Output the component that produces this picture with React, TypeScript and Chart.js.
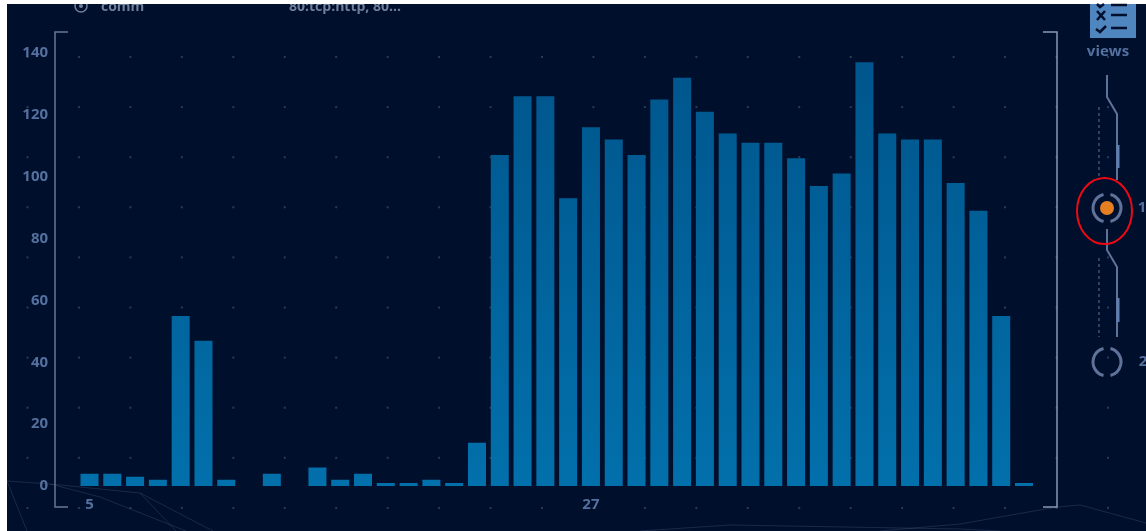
import React, { useEffect, useRef } from "react";
import { Chart, registerables } from "chart.js";

Chart.register(...registerables);

const categories = [
  5, 6, 7, 8, 9, 10, 11, 12, 13, 14, 15, 16, 17, 18, 19, 20, 21, 22, 23, 24, 25,
  26, 27, 28, 29, 30, 31, 32, 33, 34, 35, 36, 37, 38, 39, 40, 41, 42, 43, 44, 45, 46,
];
const counts = [
  4, 4, 3, 2, 55, 47, 2, 0, 4, 0, 6, 2, 4, 1, 1, 2, 1, 14, 107, 126, 126,
  93, 116, 112, 107, 125, 132, 121, 114, 111, 111, 106, 97, 101, 137, 114, 112, 112, 98, 89, 55, 1,
];
const shownCategories = [5, 27];

const FONT = '"Open Sans", sans-serif';
const LABEL = "#54709f";

const backdrop = {
  id: "backdrop",
  beforeDraw(chart: any) {
    const c = chart.ctx;
    c.save();
    c.fillStyle = "#ffffff";
    c.fillRect(0, 0, 1146, 531);
    c.fillStyle = "#000f2b";
    c.fillRect(7, 4, 1139, 527);

    // faint background polylines
    c.strokeStyle = "rgba(90,110,150,0.28)";
    c.lineWidth = 1;
    const polys = [
      [[7, 481], [50, 484], [140, 493], [213, 531]],
      [[140, 493], [176, 531]],
      [[7, 481], [27, 531]],
      [[50, 484], [100, 497], [186, 531]],
      [[1057, 507], [1080, 505], [1146, 523]],
      [[640, 531], [730, 525], [960, 529], [1000, 531]],
      [[880, 531], [960, 524], [1057, 507]],
    ];
    for (const p of polys) {
      c.beginPath();
      p.forEach(([x, y], i) => (i ? c.lineTo(x, y) : c.moveTo(x, y)));
      c.stroke();
    }

    // dot lattice
    c.fillStyle = "rgba(120,140,175,0.35)";
    for (let i = 0; i < 22; i++) {
      for (let j = 0; j < 10; j++) {
        c.fillRect(26.5 + i * 51.45, 56 + j * 50.1, 2, 2);
      }
    }
    c.restore();
  },
  afterDraw(chart: any) {
    const c = chart.ctx;
    c.save();
    const line = (pts: number[][], color: string, w = 1.5, dash: number[] = []) => {
      c.strokeStyle = color;
      c.lineWidth = w;
      c.setLineDash(dash);
      c.beginPath();
      pts.forEach(([x, y], i) => (i ? c.lineTo(x, y) : c.moveTo(x, y)));
      c.stroke();
      c.setLineDash([]);
    };

    // brackets
    line([[68, 32], [55, 32], [55, 507], [68, 507]], "#66789a");
    line([[1043, 32], [1057, 32], [1057, 507], [1043, 507]], "#8898b6");

    // right-hand rail
    const rail = "#5f7299";
    line([[1107, 75], [1107, 97], [1117, 114], [1117, 180]], rail, 2);
    line([[1118, 145], [1118, 168]], "#5f7fb0", 3);
    line([[1099, 107], [1099, 180]], rail, 1, [3, 3]);
    line([[1107, 229], [1107, 250], [1117, 267], [1117, 337]], rail, 2);
    line([[1118, 298], [1118, 322]], "#5f7fb0", 3);
    line([[1099, 258], [1099, 337]], rail, 1, [3, 3]);

    const rings = (x: number, y: number) => {
      c.strokeStyle = "#5f7299";
      c.lineWidth = 3;
      c.beginPath();
      c.arc(x, y, 14, Math.PI * 0.58, Math.PI * 1.42);
      c.stroke();
      c.beginPath();
      c.arc(x, y, 14, -Math.PI * 0.42, Math.PI * 0.42);
      c.stroke();
    };
    rings(1107, 208);
    rings(1107, 362);
    c.fillStyle = "#e67e22";
    c.beginPath();
    c.arc(1107, 208, 7, 0, Math.PI * 2);
    c.fill();

    // red annotation ellipse
    c.strokeStyle = "#ee0a14";
    c.lineWidth = 2;
    c.beginPath();
    c.ellipse(1104.5, 211, 27.5, 33, 0, 0, Math.PI * 2);
    c.stroke();

    // views icon
    c.fillStyle = "#4f86c0";
    c.fillRect(1090, 4, 46, 34);
    line([[1097, 11], [1105, 20]], "#000f2b", 2.5);
    line([[1105, 11], [1097, 20]], "#000f2b", 2.5);
    line([[1111, 15], [1127, 15]], "#000f2b", 2.5);
    line([[1096, 29], [1100, 32], [1106, 26]], "#000f2b", 2.5);
    line([[1111, 28], [1127, 28]], "#000f2b", 2.5);
    line([[1097, 4], [1100, 7], [1104, 4]], "#000f2b", 2.5);
    line([[1111, 5], [1127, 5]], "#000f2b", 2.5);

    c.textBaseline = "middle";
    c.fillStyle = LABEL;
    c.font = `bold 15px ${FONT}`;
    c.textAlign = "center";
    c.fillText("views", 1108, 52);
    c.fillText("1", 1142, 208);
    c.fillText("2", 1143, 362);

    // clipped header row
    c.beginPath();
    c.rect(7, 4, 1139, 20);
    c.clip();
    c.fillStyle = "#6f7f9c";
    c.textAlign = "left";
    c.font = `bold 14px ${FONT}`;
    c.fillText("comm", 101, 7);
    c.fillText("80:tcp:http, 80...", 289, 7);
    c.strokeStyle = "#6f7f9c";
    c.lineWidth = 1.5;
    c.beginPath();
    c.arc(81, 6, 6, 0, Math.PI * 2);
    c.stroke();
    c.fillStyle = "#6f7f9c";
    c.beginPath();
    c.arc(81, 6, 2, 0, Math.PI * 2);
    c.fill();
    c.restore();
  },
};

export default function App() {
  const ref = useRef<HTMLCanvasElement>(null);
  useEffect(() => {
    const chart = new Chart(ref.current as HTMLCanvasElement, {
      type: "bar",
      data: {
        labels: categories.map(String),
        datasets: [
          {
            data: counts,
            backgroundColor: (ctx: any) => {
              const g = ctx.chart.ctx.createLinearGradient(0, 53, 0, 486);
              g.addColorStop(0, "#00558c");
              g.addColorStop(1, "#0270ab");
              return g;
            },
            barPercentage: 0.79,
            categoryPercentage: 1,
          },
        ],
      },
      options: {
        responsive: false,
        animation: false,
        layout: { padding: { left: 0, right: 110.6, top: 53, bottom: 0 } },
        plugins: { legend: { display: false }, tooltip: { enabled: false } },
        scales: {
          x: {
            afterFit: (s: any) => {
              s.height = 45;
            },
            grid: { display: false, drawTicks: false },
            border: { display: false },
            ticks: {
              autoSkip: false,
              maxRotation: 0,
              padding: 10,
              color: LABEL,
              font: { family: FONT, size: 15, weight: "bold" },
              callback: (_v: any, i: number) =>
                shownCategories.includes(categories[i]) ? String(categories[i]) : "",
            },
          },
          y: {
            min: 0,
            max: 140,
            afterFit: (s: any) => {
              s.width = 78.1;
            },
            grid: { display: false, drawTicks: false },
            border: { display: false },
            ticks: {
              stepSize: 20,
              padding: 30,
              color: LABEL,
              font: { family: FONT, size: 15, weight: "bold" },
            },
          },
        },
      },
      plugins: [backdrop],
    } as any);
    return () => chart.destroy();
  }, []);
  return (
    <canvas
      ref={ref}
      width={1146}
      height={531}
      style={{ position: "absolute", left: 0, top: 0, display: "block" }}
    />
  );
}
